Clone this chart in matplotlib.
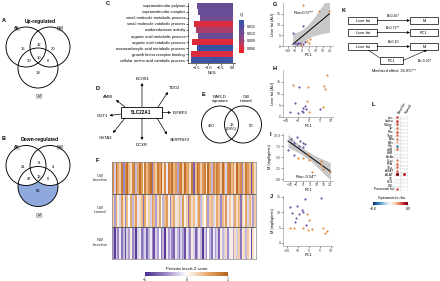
import numpy as np
import matplotlib
matplotlib.use('Agg')
import matplotlib.pyplot as plt
from matplotlib.patches import Circle, Rectangle
from matplotlib.colors import LinearSegmentedColormap, Normalize, TwoSlopeNorm
from matplotlib.colorbar import ColorbarBase

plt.rcParams['font.family'] = ['Liberation Sans', 'DejaVu Sans']
plt.rcParams['axes.linewidth'] = 0.4

# ---------------- data ----------------
venn_regions = ['L', 'LR', 'R', 'LB', 'LRB', 'RB', 'B']
up_counts = [35, 12, 20, 30, 10, 0, 19]
down_counts = [21, 8, 4, 47, 13, 0, 66]
venn_sets = ['AB', 'NW', 'OW']

go_terms = ['supramolecular polymer', 'supramolecular complex',
            'small molecule metabolic process', 'small molecule catabolic process',
            'oxidoreductase activity', 'organic acid metabolic process',
            'organic acid catabolic process', 'monocarboxylic acid metabolic process',
            'growth factor receptor binding', 'cellular amino acid catabolic process']
go_nes = [-1.46, -1.42, -1.35, -1.60, -1.52, -1.42, -1.70, -1.46, -1.74, -1.74]
go_q = [0.0128, 0.0130, 0.0118, 0.0060, 0.0085, 0.0125, 0.0058, 0.0168, 0.0060, 0.0160]
q_ticks = [0.006, 0.009, 0.012, 0.015]

hub_gene = 'SLC22A1'
network_genes = ['ECHS1', 'TDO2', 'IGFBP4', 'SERPINF2', 'DCXR', 'GSTA3', 'GGT1', 'AMBI']

nafld_counts = [460, 16, 50]
nafld_pct = 24

heat_rows = ['OW\nbaseline', 'OW\ntrained', 'NW\nbaseline']
heat_ow_base = [0.7, -0.2, 0.9, 0.5, 0.3, 0.8, -0.5, 0.6, 0.9, 0.4, 0.2, 0.7, 0.8, -0.3, 0.5, 0.9, 0.6, 0.1, 0.8, 0.4,
                0.7, 0.9, -0.6, 0.5, 0.3, 0.8, 0.6, 0.9, 0.2, 0.7, -0.1, 0.8, 0.5, 0.9, 0.4, 0.6, -0.4, 0.7, 0.8, 0.3,
                0.9, 0.5, 0.6, 0.2, 0.8, -0.7, 0.4, 0.9, 0.7, 0.3, 0.6, 0.8, 0.1, 0.9, 0.5, -0.3, 0.7, 0.4, 0.8, 0.6,
                0.3, 0.9, 0.5, -0.2, 0.7, 0.8, 0.4, 0.6, 0.2, 0.9, 0.5, 0.7, -0.5, 0.3, 0.8, 0.6, 0.4, -0.8, 0.5, 0.2]
heat_ow_trained = [0.3, -0.4, 0.5, 0.1, -0.2, 0.6, 0.2, -0.5, 0.4, 0.0, 0.5, -0.3, 0.3, 0.6, -0.1, 0.2, 0.4, -0.6, 0.5, 0.1,
                   0.3, -0.2, 0.6, 0.4, -0.4, 0.2, 0.5, 0.0, -0.3, 0.4, 0.6, 0.1, -0.5, 0.3, 0.5, -0.1, 0.2, 0.4, -0.2, 0.6,
                   0.1, 0.3, -0.6, 0.5, 0.2, 0.4, -0.1, 0.3, 0.6, -0.3, 0.2, 0.0, 0.5, -0.4, 0.3, 0.4, -0.2, 0.1, 0.5, 0.3,
                   -0.5, 0.4, 0.2, 0.6, -0.1, 0.3, 0.1, -0.3, 0.5, 0.2, 0.4, -0.6, 0.3, 0.1, 0.5, -0.2, 0.4, 0.2, -0.4, 0.3]
heat_nw_base = [-0.4, -0.9, -0.2, -0.5, -0.1, -0.6, -0.3, -0.8, -0.2, -0.4, 0.1, -0.5, -0.3, -0.9, -0.2, -0.1, -0.6, -0.4, -0.2, -0.7,
                -0.3, -0.1, -0.5, -0.8, -0.2, -0.4, 0.0, -0.6, -0.3, -0.9, -0.1, -0.4, -0.2, -0.5, -0.7, -0.1, -0.3, -0.6, -0.2, -0.4,
                -0.8, -0.1, -0.3, -0.5, 0.1, -0.2, -0.7, -0.4, -0.1, -0.3, -0.9, -0.2, -0.5, 0.0, -0.3, -0.6, -0.1, -0.4, -0.2, -0.7,
                0.1, -0.3, -0.2, 0.2, -0.5, -0.1, 0.1, -0.4, 0.2, -0.2, 0.3, -0.6, 0.1, 0.2, -0.3, 0.3, 0.1, -0.8, 0.2, 0.0]

# orange = OW, purple = NW
g_or_x = [0.5, 12.4, 19.5, 3.8, 5.7, -0.7, 5.2]
g_or_y = [19.1, 16.3, 16.3, 2.5, 3.1, 0.5, 1.5]
g_pu_x = [-6.6, 0.5, -2.6, -5.0, -3.8, -1.4, 2.1, 0.9]
g_pu_y = [6.2, 9.3, 1.5, 1.3, 0.8, 1.3, 1.9, 0.9]

h_or_x = [8.2, -6.9, -0.3, 6.6, 7.4, -1.0, 6.3, 0.1]
h_or_y = [17.9, 13.6, 12.9, 13.3, 11.9, 6.9, 4.4, 2.3]
h_pu_x = [-4.3, -6.2, -2.8, -1.5, -1.3, -3.2, -4.7, 4.8, -8.4, -2.6]
h_pu_y = [12.6, 6.1, 3.7, 4.8, 3.3, 2.6, 1.6, 3.3, 2.1, 2.1]

i_or_x = [-3.5, 0.2, 3.9, 4.7, 13.1, 13.1, 15.0, 20.0, 6.4]
i_or_y = [4.7, 4.7, 5.8, 4.3, 4.2, 3.2, 2.4, 1.7, 1.5]
i_pu_x = [-6.7, -2.2, -0.2, -6.7, -2.7, 0.2, 1.5, -11.1, -4.4, -8.9]
i_pu_y = [8.25, 8.7, 8.25, 5.5, 7.5, 7.2, 8.1, 6.6, 9.5, 9.1]

j_or_x = [-1.0, 0.1, -6.8, -8.6, -2.9, -0.3, 1.2, 6.5, 8.3, 7.3]
j_or_y = [9.4, 7.5, 5.0, 4.8, 4.8, 4.2, 4.5, 4.8, 3.9, 3.2]
j_pu_x = [-1.8, -5.6, 5.3, -3.3, -2.8, -4.4, -8.6, -7.9, -5.9, -1.4, -6.4]
j_pu_y = [14.2, 12.1, 14.6, 10.7, 10.2, 9.3, 11.8, 9.7, 8.0, 5.9, 6.9]

rho_g = '0.57**'
rho_i = '-0.54**'

med_outcomes = ['M', 'PC1', 'M']
med_coefs = ['B=0.26*', 'B=0.72**', 'B=0.10']
med_indirect = 'B=-0.22*'
med_effect = 'Mediated effect: 36.9%***'

corr_vars = ['Leu', 'Isoleu', 'Valine', 'Tyr', 'Phe', 'Tryp', 'Ala', 'KBs', 'Gly', 'aHB', 'bHB',
             'AcAc', 'SLat', 'FFA', 'TGs', 'ASAT', 'ALAT', 'TC', 'HDL', 'LDL', 'Pancreatic fat']
corr_cols = ['Baseline', 'Trained']
rho_baseline = [0.55, 0.6, 0.55, 0.5, 0.55, 0.5, 0.45, 0.35, -0.45, 0.5, np.nan,
                np.nan, 0.45, 0.5, 0.5, 0.5, 0.85, np.nan, np.nan, np.nan, 0.55]
rho_trained = [np.nan] * 16 + [0.7] + [np.nan] * 4

# ---------------- figure ----------------
W, H = 440, 281
fig = plt.figure(figsize=(4.4, 2.81), dpi=100)


def px_axes(x0, y0, x1, y1):
    return fig.add_axes([x0 / W, 1 - y1 / H, (x1 - x0) / W, (y1 - y0) / H])


ov = px_axes(0, 0, W, H)
ov.set_xlim(0, W)
ov.set_ylim(H, 0)
ov.axis('off')
ov.patch.set_visible(False)

FS = 3.0


def arrow(p0, p1, lw=0.5, ms=3.5):
    ov.annotate('', xy=p1, xytext=p0,
                arrowprops=dict(arrowstyle='-|>', lw=lw, color='k', mutation_scale=ms,
                                shrinkA=0, shrinkB=0))


def plabel(x, y, s):
    ov.text(x, y, s, fontsize=4, fontweight='bold', ha='left', va='center')


# ---- A / B venns ----
offs = {'L': (23, 2), 'LR': (38.5, -2), 'R': (53, 2), 'LB': (29, 14),
        'LRB': (38.5, 11), 'RB': (48, 14), 'B': (38.5, 26)}


def venn3(cy, counts, title, fill):
    r = 20
    cL, cR, cB = (26, cy), (50, cy), (38, cy + 21)
    if fill:
        ov.add_patch(Circle(cB, r, fc='#8fa9dc', ec='none', zorder=1))
        ov.add_patch(Circle(cL, r, fc='white', ec='none', zorder=2))
        ov.add_patch(Circle(cR, r, fc='white', ec='none', zorder=2))
    for c in (cL, cR, cB):
        ov.add_patch(Circle(c, r, fc='none', ec='k', lw=0.65, zorder=3))
    for reg, n in zip(venn_regions, counts):
        dx, dy = offs[reg]
        ov.text(dx, cy + dy, str(n), fontsize=FS, ha='center', va='center', zorder=4)
    ov.text(40, cy - 26, title, fontsize=3.6, fontweight='bold', ha='center', va='center')
    for (x, y), s in zip([(17, cy - 19), (60, cy - 19), (39, cy + 49)], venn_sets):
        ov.text(x, y, s, fontsize=FS, ha='center', va='center')
        ov.plot([x - 3, x + 3], [y + 2.2, y + 2.2], color='k', lw=0.3)


venn3(47, up_counts, 'Up-regulated', False)
venn3(165.5, down_counts, 'Down-regulated', True)
plabel(2, 21, 'A')
plabel(2, 138, 'B')

# ---- C GO bars ----
cmapQ = LinearSegmentedColormap.from_list('q', ['#ff1a1a', '#c23a5a', '#7e4a8e', '#5a4f9c', '#2a55a8'])
normQ = Normalize(0.004, 0.0175)
axC = px_axes(188, 3, 235, 63)
yy = np.arange(len(go_terms))
axC.barh(yy, go_nes, color=cmapQ(normQ(np.array(go_q))), height=0.85)
axC.set_ylim(len(go_terms) - 0.5, -0.5)
axC.set_xlim(-1.85, 0.1)
axC.set_yticks(yy)
axC.set_yticklabels(go_terms, fontsize=2.85)
axC.set_xticks([-1.5, -1.0, -0.5, 0.0])
axC.tick_params(axis='x', labelsize=2.7, length=1.2, width=0.4, pad=0.8)
axC.tick_params(axis='y', length=1.2, width=0.4, pad=0.8)
axC.set_xlabel('NES', fontsize=3, labelpad=0.8)
for s in ('top', 'right'):
    axC.spines[s].set_visible(False)
caxC = px_axes(239, 20, 244, 53)
cbC = ColorbarBase(caxC, cmap=cmapQ, norm=normQ, orientation='vertical')
cbC.set_ticks(q_ticks)
cbC.ax.tick_params(labelsize=2.5, length=1, width=0.3, pad=0.8)
cbC.outline.set_visible(False)
ov.text(241.5, 15, 'Q', fontsize=3, ha='center', va='center')
plabel(106, 3.5, 'C')

# ---- D network ----
by = 112.5
ov.add_patch(Rectangle((121, by - 5.5), 41, 11, fc='white', ec='k', lw=0.6))
ov.text(141.5, by, hub_gene, fontsize=3.3, fontweight='bold', ha='center', va='center')
net_pos = [(142, 79), (174, 88), (173, by), (180, 140), (142, 144.5), (105, 138), (102, 116), (108, 97)]
net_ha = ['center', 'center', 'left', 'center', 'center', 'center', 'center', 'center']
net_arrows = [((142, by - 5.5), (142, 83)), ((158, by - 5.5), (168, 92)), ((162, by), (171, by)),
              ((157, by + 5.5), (167, 134.5)), ((142, by + 5.5), (142, 140)), ((125, by + 5.5), (113, 133)),
              ((121, by + 1.5), (109.5, 115.5)), ((125, by - 5.5), (116, 100))]
for g, p, ha, (a0, a1) in zip(network_genes, net_pos, net_ha, net_arrows):
    ov.text(p[0], p[1], g, fontsize=FS, ha=ha, va='center')
    arrow(a0, a1)
plabel(96, 89, 'D')

# ---- E ----
ov.add_patch(Circle((220, 124.5), 18.5, fc='none', ec='k', lw=0.65))
ov.add_patch(Circle((243, 124.5), 18.5, fc='none', ec='k', lw=0.65))
ov.text(220, 99, 'NAFLD\nsignature', fontsize=FS, ha='center', va='center', linespacing=1.0)
ov.text(246, 99, 'OW\ntrained', fontsize=FS, ha='center', va='center', linespacing=1.0)
ov.text(211.5, 126, str(nafld_counts[0]), fontsize=FS, ha='center', va='center')
ov.text(231.5, 127, f'{nafld_counts[1]}\n({nafld_pct}%)', fontsize=FS, ha='center', va='center', linespacing=1.0)
ov.text(251.5, 126, str(nafld_counts[2]), fontsize=FS, ha='center', va='center')
plabel(202, 94.5, 'E')

# ---- F heatmap ----
cmapZ = LinearSegmentedColormap.from_list('z', ['#4a2a8c', '#9c88c6', '#ffffff', '#e8aa6c', '#b9611a'])
axF = px_axes(112, 162, 256, 259)
Z = np.array([heat_ow_base, heat_ow_trained, heat_nw_base])
axF.imshow(Z, aspect='auto', cmap=cmapZ, vmin=-1, vmax=1, interpolation='nearest')
for yv in (0.5, 1.5):
    axF.axhline(yv, color='#555555', lw=0.6)
axF.set_xticks([])
axF.set_yticks([])
for s in axF.spines.values():
    s.set_color('#888888')
    s.set_linewidth(0.5)
for i, lab in enumerate(heat_rows):
    ov.text(100, 178 + i * 32.3, lab, fontsize=FS, ha='center', va='center', linespacing=1.1, color='#333333')
caxF = px_axes(145, 272, 228, 276)
cbF = ColorbarBase(caxF, cmap=cmapZ, norm=Normalize(-1, 1), orientation='horizontal')
cbF.set_ticks([-1, 0, 1])
cbF.ax.tick_params(labelsize=2.5, length=1, width=0.3, pad=0.6)
cbF.outline.set_visible(False)
ov.text(186.5, 268.5, 'Proteins levels Z score', fontsize=FS, ha='center', va='center')
plabel(96, 161, 'F')

# ---- G-J scatter ----
OR, PU = '#e8883a', '#6b4ea0'


def scat(box, ox, oy, px, py, xlim, ylim, xt, yt, ylabel, fit=False, rho=None, rho_pos=None):
    ax = px_axes(*box)
    ax.scatter(ox, oy, s=2.4, color=OR, lw=0, zorder=3)
    ax.scatter(px, py, s=2.4, color=PU, lw=0, zorder=3)
    if fit:
        x = np.array(ox + px)
        y = np.array(oy + py)
        b, a = np.polyfit(x, y, 1)
        n = len(x)
        res = y - (a + b * x)
        s = np.sqrt(np.sum(res ** 2) / (n - 2))
        xs = np.linspace(x.min(), x.max(), 50)
        se = s * np.sqrt(1 / n + (xs - x.mean()) ** 2 / np.sum((x - x.mean()) ** 2))
        ax.fill_between(xs, a + b * xs - 2.1 * se, a + b * xs + 2.1 * se, color='#c8c8c8', lw=0, zorder=1)
        ax.plot(xs, a + b * xs, color='k', lw=0.7, zorder=2)
    if rho is not None:
        ax.text(rho_pos[0], rho_pos[1], 'Rho=' + rho, fontsize=2.8, transform=ax.transAxes,
                ha='left', va='center', zorder=4,
                bbox=dict(fc='white', ec='none', pad=0.3, alpha=0.8))
    ax.set_xlim(*xlim)
    ax.set_ylim(*ylim)
    ax.set_xticks(xt)
    ax.set_yticks(yt)
    ax.tick_params(labelsize=2.6, length=1.2, width=0.4, pad=0.6, colors='#444444')
    for s in ('top', 'right'):
        ax.spines[s].set_visible(False)
    for s in ('left', 'bottom'):
        ax.spines[s].set_color('#888888')
    ax.set_xlabel('PC1', fontsize=2.8, labelpad=0.6)
    ax.set_ylabel(ylabel, fontsize=2.8, labelpad=1.0)
    ax.patch.set_visible(False)
    return ax


scat((283, 3, 333, 46), g_or_x, g_or_y, g_pu_x, g_pu_y, (-13.5, 22), (0, 20),
     [-10, -5, 0, 5, 10, 15, 20], [0, 5, 10, 15], 'Liver fat (AU)', fit=True, rho=rho_g, rho_pos=(0.22, 0.77))
scat((283, 70, 333, 117), h_or_x, h_or_y, h_pu_x, h_pu_y, (-11.5, 10.8), (0, 20),
     [-10, -5, 0, 5, 10], [0, 5, 10, 15], 'Liver fat (AU)')
scat((283, 133, 333, 181), i_or_x, i_or_y, i_pu_x, i_pu_y, (-14.8, 22), (-0.45, 10.5),
     [-10, -5, 0, 5, 10, 15, 20], [0, 2.5, 5, 7.5, 10], 'M (mg/kg/min)', fit=True, rho=rho_i, rho_pos=(0.25, 0.09))
scat((283, 196, 333, 246), j_or_x, j_or_y, j_pu_x, j_pu_y, (-11.8, 10.9), (-1, 15.3),
     [-10, -5, 0, 5, 10], [0, 5, 10, 15], 'M (mg/kg/min)')
plabel(273, 4, 'G')
plabel(273, 68, 'H')
plabel(270, 134, 'I')
plabel(270, 197, 'J')

# ---- K mediation ----
rows_y = [20.5, 32.5, 46.5]
for y, outc, coef in zip(rows_y, med_outcomes, med_coefs):
    ov.add_patch(Rectangle((348, y - 3.5), 29, 7, fc='white', ec='k', lw=0.5))
    ov.add_patch(Rectangle((410, y - 3.5), 28, 7, fc='white', ec='k', lw=0.5))
    ov.text(362.5, y, 'Liver fat', fontsize=2.8, ha='center', va='center')
    ov.text(424, y, outc, fontsize=2.8, ha='center', va='center')
    arrow((377, y), (410, y), lw=0.5, ms=3.5)
    ov.text(393, y - 4.2, coef, fontsize=2.6, ha='center', va='center')
ov.add_patch(Rectangle((380, 57), 23, 7, fc='white', ec='k', lw=0.5))
ov.text(391.5, 60.5, 'PC1', fontsize=2.8, ha='center', va='center')
ov.plot([368, 380], [50, 58], color='k', lw=0.4)
arrow((403, 60.5), (427, 50), lw=0.4, ms=3.5)
ov.text(418, 61.5, med_indirect, fontsize=2.6, ha='left', va='center')
ov.text(394, 71, med_effect, fontsize=2.8, ha='center', va='center')
plabel(342, 10, 'K')

# ---- L correlation matrix ----
axL = px_axes(394, 115.5, 407.5, 190.5)
nr = len(corr_vars)
normL = TwoSlopeNorm(vmin=-0.6, vcenter=0, vmax=0.9)
cmapL = plt.get_cmap('RdBu_r')
for j, col in enumerate([rho_baseline, rho_trained]):
    for i, v in enumerate(col):
        axL.add_patch(Rectangle((j - 0.5, i - 0.5), 1, 1, fc='white', ec='#d0d0d0', lw=0.3))
        if not np.isnan(v):
            axL.scatter(j, i, s=2.2 + 5 * abs(v) ** 2, color=cmapL(normL(v)), lw=0, zorder=3)
axL.set_xlim(-0.5, 1.5)
axL.set_ylim(nr - 0.5, -0.5)
axL.set_yticks(range(nr))
axL.set_yticklabels(corr_vars, fontsize=2.3)
axL.set_xticks([0, 1])
axL.set_xticklabels(corr_cols, fontsize=2.4, rotation=60, ha='left')
axL.xaxis.tick_top()
axL.tick_params(length=0, pad=0.6)
for s in axL.spines.values():
    s.set_visible(False)
caxL = px_axes(373, 202, 408, 205)
cbL = ColorbarBase(caxL, cmap=cmapL, norm=normL, orientation='horizontal')
cbL.set_ticks([-0.6, 0.9])
cbL.ax.tick_params(labelsize=2.5, length=1, width=0.3, pad=0.6)
cbL.outline.set_visible(False)
ov.text(391, 197.5, "Spearman's rho", fontsize=2.8, ha='center', va='center')
plabel(372, 105, 'L')

fig.savefig('out.png', dpi=100)
